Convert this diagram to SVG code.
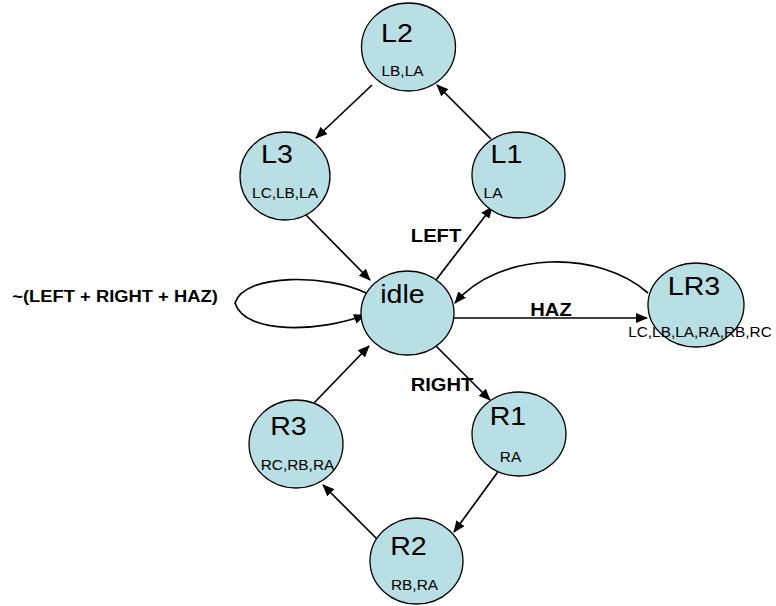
<svg xmlns="http://www.w3.org/2000/svg" width="776" height="606" viewBox="0 0 776 606">
  <style>
    .state { fill: #b8dfe3; stroke: #000; stroke-width: 1.3; }
    .title { font-family: "Liberation Sans", Arial, sans-serif; font-size: 26px; fill: #000; text-anchor: middle; }
    .out { font-family: "Liberation Sans", Arial, sans-serif; font-size: 14px; fill: #000; text-anchor: middle; }
    .cond { font-family: "Liberation Sans", Arial, sans-serif; font-size: 18px; font-weight: bold; fill: #000; text-anchor: middle; }
    .edge { fill: none; stroke: #000; stroke-width: 1.7; marker-end: url(#arrow); }
  </style>
  <defs>
    <marker id="arrow" markerUnits="userSpaceOnUse" markerWidth="12" markerHeight="10" refX="11" refY="5" orient="auto">
      <path d="M0,0 L12,5 L0,10 z" fill="#000"/>
    </marker>
  </defs>
  <rect width="776" height="606" fill="#fff"/>

  <!-- transitions -->
  <g id="edges">
    <line class="edge" x1="372" y1="85" x2="316" y2="138"/>
    <line class="edge" x1="491" y1="139" x2="437" y2="85"/>
    <line class="edge" x1="306" y1="215" x2="370" y2="280"/>
    <line class="edge" x1="436" y1="280" x2="492" y2="207"/>
    <line class="edge" x1="454" y1="318" x2="647" y2="318"/>
    <path class="edge" d="M648,293 C600,250 500,250 455,303"/>
    <path class="edge" d="M366,293 C330,275 245,272 235,303 C245,335 320,332 365,315"/>
    <line class="edge" x1="436" y1="346" x2="490" y2="400"/>
    <line class="edge" x1="500" y1="469" x2="454" y2="532"/>
    <line class="edge" x1="378" y1="540" x2="323" y2="485"/>
    <line class="edge" x1="314" y1="403" x2="369" y2="346"/>
    <text class="cond" transform="translate(436 242) scale(1.12 1)">LEFT</text>
    <text class="cond" transform="translate(551 316) scale(1.12 1)">HAZ</text>
    <text class="cond" transform="translate(442 391) scale(1.12 1)">RIGHT</text>
    <text class="cond" style="font-size:17px" transform="translate(115 302) scale(1.08 1)">~(LEFT + RIGHT + HAZ)</text>
  </g>

  <g id="L2">
    <ellipse class="state" cx="408.5" cy="47" rx="47" ry="44"/>
    <text class="title" transform="translate(397 42) scale(1.1 1)">L2</text>
    <text class="out" transform="translate(402.5 76) scale(1.1 1)">LB,LA</text>
  </g>
  <g id="L3">
    <ellipse class="state" cx="285" cy="176" rx="45" ry="44"/>
    <text class="title" transform="translate(277 163) scale(1.1 1)">L3</text>
    <text class="out" transform="translate(285 198) scale(1.1 1)">LC,LB,LA</text>
  </g>
  <g id="L1">
    <ellipse class="state" cx="518.5" cy="175" rx="46.5" ry="43"/>
    <text class="title" transform="translate(506.5 163) scale(1.1 1)">L1</text>
    <text class="out" transform="translate(493 198) scale(1.1 1)">LA</text>
  </g>
  <g id="idle">
    <ellipse class="state" cx="407.5" cy="313" rx="46.5" ry="42"/>
    <text class="title" transform="translate(402.5 303) scale(1.1 1)">idle</text>
  </g>
  <g id="LR3">
    <ellipse class="state" cx="696" cy="305" rx="48" ry="42"/>
    <text class="title" transform="translate(694 295) scale(1.1 1)">LR3</text>
    <text class="out" transform="translate(700 337) scale(1.1 1)">LC,LB,LA,RA,RB,RC</text>
  </g>
  <g id="R3">
    <ellipse class="state" cx="296" cy="444" rx="47" ry="44"/>
    <text class="title" transform="translate(288.5 435) scale(1.1 1)">R3</text>
    <text class="out" transform="translate(297.5 470) scale(1.1 1)">RC,RB,RA</text>
  </g>
  <g id="R1">
    <ellipse class="state" cx="519" cy="434" rx="47" ry="42"/>
    <text class="title" transform="translate(508 425) scale(1.1 1)">R1</text>
    <text class="out" transform="translate(510.5 462) scale(1.1 1)">RA</text>
  </g>
  <g id="R2">
    <ellipse class="state" cx="416.5" cy="561" rx="46.5" ry="43"/>
    <text class="title" transform="translate(408.5 555) scale(1.1 1)">R2</text>
    <text class="out" transform="translate(414.5 590) scale(1.1 1)">RB,RA</text>
  </g>
</svg>
